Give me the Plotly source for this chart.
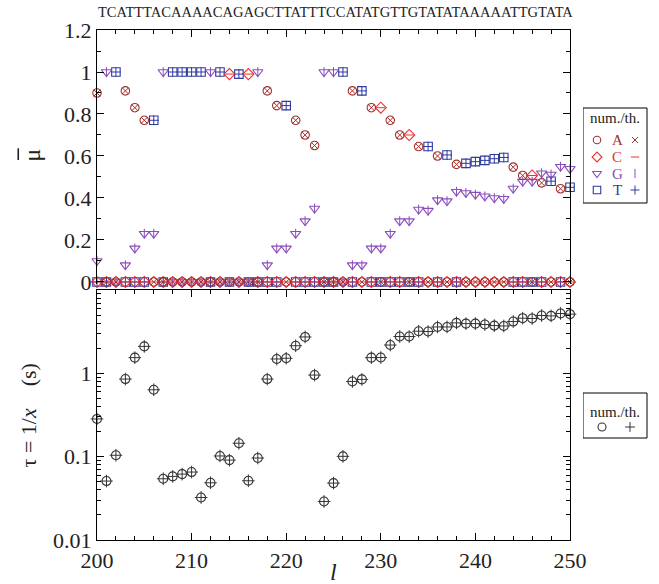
import plotly.graph_objects as go

# ---------------- data ----------------
positions = list(range(200, 251))
sequence = "TCATTTACAAAACAGAGCTTATTTCCATATGTTGTATATAAAAATTGTATA"

mu_A = [0.90, 0, 0, 0.91, 0.83, 0.77, 0, 0, 0, 0,
        0, 0, 0, 0, 0, 0, 0, 0, 0.91, 0.84,
        0, 0.77, 0.70, 0.65, 0, 0, 0, 0.91, 0, 0.83,
        0, 0.77, 0.70, 0, 0.645, 0, 0.60, 0, 0.56, 0,
        0, 0, 0, 0, 0.547, 0.507, 0, 0.472, 0, 0.444,
        0]
mu_C = [0, 0, 0, 0, 0, 0, 0, 0, 0, 0,
        0, 0, 0, 0, 0.99, 0, 0.99, 0, 0, 0,
        0, 0, 0, 0, 0, 0, 0, 0, 0, 0,
        0.83, 0, 0, 0.70, 0, 0, 0, 0, 0, 0,
        0, 0, 0, 0, 0, 0, 0.507, 0, 0, 0,
        0]
mu_G = [0.10, 1, 0, 0.08, 0.16, 0.23, 0.23, 1, 0, 0,
        0, 0, 1, 0, 0, 0, 0, 1, 0.08, 0.16,
        0.16, 0.23, 0.29, 0.35, 1, 1, 0, 0.08, 0.08, 0.16,
        0.16, 0.23, 0.29, 0.29, 0.345, 0.34, 0.39, 0.385, 0.43, 0.424,
        0.416, 0.408, 0.40, 0.396, 0.445, 0.478, 0.478, 0.518, 0.512, 0.549,
        0.539]
mu_T = [0, 0, 1, 0, 0, 0, 0.77, 0, 1, 1,
        1, 1, 0, 1, 0, 0.99, 0, 0, 0, 0,
        0.84, 0, 0, 0, 0, 0, 1, 0, 0.91, 0,
        0, 0, 0, 0, 0, 0.645, 0, 0.605, 0, 0.565,
        0.573, 0.579, 0.587, 0.593, 0, 0, 0, 0, 0.48, 0,
        0.451]

tau = [0.284, 0.051, 0.104, 0.855, 1.546, 2.11, 0.636, 0.0543, 0.058, 0.0618,
       0.0654, 0.0324, 0.0486, 0.102, 0.091, 0.145, 0.0514, 0.0964, 0.855, 1.49,
       1.52, 2.15, 2.74, 0.955, 0.029, 0.0482, 0.101, 0.80, 0.847, 1.546,
       1.55, 2.19, 2.77, 2.77, 3.21, 3.18, 3.61, 3.61, 4.04, 3.96,
       3.96, 3.86, 3.75, 3.71, 4.19, 4.6, 4.56, 4.96, 4.9, 5.24,
       5.14]

mu_ticks = [0, 0.2, 0.4, 0.6, 0.8, 1.0, 1.2]
mu_ticktext = ["0", "0.2", "0.4", "0.6", "0.8", "1", "1.2"]
tau_ticks = [0.01, 0.1, 1]
tau_ticktext = ["0.01", "0.1", "1"]
x_ticks = [200, 210, 220, 230, 240, 250]

# ---------------- styles ----------------
FONT = "Liberation Serif"
TXT = "#222"
C_A = "#a3302e"
C_C = "#ee3030"
C_G = "#8a4cbc"
C_T = "#2f3a9e"
C_K = "#333333"

W, H = 659, 584
ML, MT, MB = 97, 30, 44
PLOT_RIGHT = 570                      # right edge of the data panels (px)
main_frac = (PLOT_RIGHT - ML) / (W - ML)

fig = go.Figure()

bases = [
    ("T", mu_T, C_T, "square-open", 8.5, "cross-thin-open", 7),
    ("G", mu_G, C_G, "triangle-down-open", 9, "line-ns-open", 7),
    ("C", mu_C, C_C, "diamond-open", 8.5, "line-ew-open", 6.5),
    ("A", mu_A, C_A, "circle-open", 8.5, "x-thin-open", 6.5),
]
for name, vals, col, sym, sz, thsym, thsz in bases:
    fig.add_trace(go.Scatter(
        x=positions, y=vals, mode="markers", xaxis="x", yaxis="y", name=name,
        marker=dict(symbol=sym, size=sz, color=col, line=dict(width=1.1, color=col)),
        cliponaxis=False, showlegend=False,
    ))
for name, vals, col, sym, sz, thsym, thsz in bases:
    fig.add_trace(go.Scatter(
        x=positions, y=vals, mode="markers", xaxis="x", yaxis="y", name=name + " th.",
        marker=dict(symbol=thsym, size=thsz, color=col, line=dict(width=1, color=col)),
        cliponaxis=False, showlegend=False,
    ))

fig.add_trace(go.Scatter(
    x=positions, y=tau, mode="markers", xaxis="x2", yaxis="y2", name="num.",
    marker=dict(symbol="circle-open", size=9, color=C_K, line=dict(width=1.1, color=C_K)),
    cliponaxis=False, showlegend=False,
))
fig.add_trace(go.Scatter(
    x=positions, y=tau, mode="markers", xaxis="x2", yaxis="y2", name="th.",
    marker=dict(symbol="cross-thin-open", size=9, color=C_K, line=dict(width=1, color=C_K)),
    cliponaxis=False, showlegend=False,
))

# ---------------- hand-made legends (on a pixel-scaled helper axis) ----------------
LEG_L, LEG_R = 583, 647
leg_top = dict(y0=108, y1=203, title_y=118, rows=[140, 157, 173.5, 190])
leg_bot = dict(y0=393, y1=438, title_y=412, row=427)
x_num, x_let, x_th = 597, 617, 635

order = {"A": 0, "C": 1, "G": 2, "T": 3}
for name, vals, col, sym, sz, thsym, thsz in bases:
    yy = leg_top["rows"][order[name]]
    fig.add_trace(go.Scatter(x=[x_num], y=[yy], mode="markers", xaxis="x3", yaxis="y3",
                             marker=dict(symbol=sym, size=sz - 1, color=col,
                                         line=dict(width=1.1, color=col)),
                             cliponaxis=False, showlegend=False, hoverinfo="skip"))
    fig.add_trace(go.Scatter(x=[x_th], y=[yy], mode="markers", xaxis="x3", yaxis="y3",
                             marker=dict(symbol=thsym, size=thsz - 0.5, color=col,
                                         line=dict(width=1, color=col)),
                             cliponaxis=False, showlegend=False, hoverinfo="skip"))
    fig.add_annotation(text=name, x=x_let, y=yy, xref="x3", yref="y3", showarrow=False,
                       xanchor="center", yanchor="middle",
                       font=dict(family=FONT, size=15, color=col))
fig.add_trace(go.Scatter(x=[602], y=[leg_bot["row"]], mode="markers", xaxis="x3", yaxis="y3",
                         marker=dict(symbol="circle-open", size=8, color=C_K,
                                     line=dict(width=1.1, color=C_K)),
                         cliponaxis=False, showlegend=False, hoverinfo="skip"))
fig.add_trace(go.Scatter(x=[630], y=[leg_bot["row"]], mode="markers", xaxis="x3", yaxis="y3",
                         marker=dict(symbol="cross-thin-open", size=7, color=C_K,
                                     line=dict(width=1, color=C_K)),
                         cliponaxis=False, showlegend=False, hoverinfo="skip"))
for lg in (leg_top, leg_bot):
    fig.add_shape(type="rect", xref="x3", yref="y3", x0=LEG_L, x1=LEG_R,
                  y0=lg["y0"], y1=lg["y1"], line=dict(color="black", width=1))
    fig.add_annotation(text="num./th.", x=(LEG_L + LEG_R) / 2, y=lg["title_y"],
                       xref="x3", yref="y3", showarrow=False, xanchor="center",
                       yanchor="middle", font=dict(family=FONT, size=15, color=TXT))

axis_common = dict(showline=True, linecolor="black", linewidth=1.3, ticks="inside",
                   tickcolor="black", tickwidth=1, showgrid=False, zeroline=False,
                   tickfont=dict(family=FONT, size=22, color=TXT))

fig.update_layout(
    width=W, height=H,
    margin=dict(l=ML, r=0, t=MT, b=MB, autoexpand=False),
    paper_bgcolor="white", plot_bgcolor="white",
    font=dict(family=FONT, color=TXT),
    showlegend=False,
    xaxis=dict(domain=[0, main_frac], anchor="y", side="top", range=[200, 250],
               tickvals=x_ticks, showticklabels=False, ticklen=7,
               minor=dict(dtick=2, tick0=200, ticks="inside", ticklen=4, tickcolor="black"),
               **axis_common),
    yaxis=dict(domain=[0.501, 1], anchor="x", range=[-0.012, 1.2],
               tickvals=mu_ticks, ticktext=mu_ticktext, ticklen=7, mirror="ticks",
               minor=dict(dtick=0.1, tick0=0, ticks="inside", ticklen=4, tickcolor="black"),
               **axis_common),
    xaxis2=dict(domain=[0, main_frac], anchor="y2", range=[200, 250],
                tickvals=x_ticks, ticklen=7, mirror="ticks",
                minor=dict(dtick=2, tick0=200, ticks="inside", ticklen=4, tickcolor="black"),
                **axis_common),
    yaxis2=dict(domain=[0, 0.490], anchor="x2", type="log", range=[-2, 1],
                tickvals=tau_ticks, ticktext=tau_ticktext, ticklen=7, mirror="ticks",
                minor=dict(tickmode="array",
                           tickvals=[m * d for d in (0.01, 0.1, 1) for m in range(2, 10)],
                           ticks="inside", ticklen=4, tickcolor="black"),
                **axis_common),
    xaxis3=dict(domain=[(LEG_L - ML) / (W - ML), 1], anchor="y3", range=[LEG_L, W],
                visible=False, fixedrange=True),
    yaxis3=dict(domain=[0, 1], anchor="x3", range=[H - MB, MT],
                visible=False, fixedrange=True),
)

fig.add_annotation(text=sequence, xref="x domain", yref="paper", x=0.5, y=1,
                   xshift=2, yshift=18, xanchor="center", yanchor="middle", showarrow=False,
                   font=dict(family=FONT, size=14.5, color=TXT))
# mu with an overbar (bar drawn as a short line, text rotated)
fig.add_annotation(text="\u03bc", xref="x domain", yref="paper", x=-0.138, y=0.755,
                   textangle=-90, xanchor="center", yanchor="middle", showarrow=False,
                   font=dict(family=FONT, size=24, color=TXT))
fig.add_shape(type="line", xref="x domain", yref="paper",
              x0=-0.1665, x1=-0.1665, y0=0.745, y1=0.768,
              line=dict(color=TXT, width=1.6))
fig.add_annotation(text="\u03c4 = 1/<i>x</i>    (s)", xref="x domain", yref="paper",
                   x=-0.145, y=0.245, textangle=-90, xanchor="center", yanchor="middle",
                   showarrow=False, font=dict(family=FONT, size=22, color=TXT))
fig.add_annotation(text="<i>l</i>", xref="x domain", yref="paper", x=0.5, y=-0.062,
                   xanchor="center", yanchor="middle", showarrow=False,
                   font=dict(family=FONT, size=24, color=TXT))

fig.write_html("out.html")
